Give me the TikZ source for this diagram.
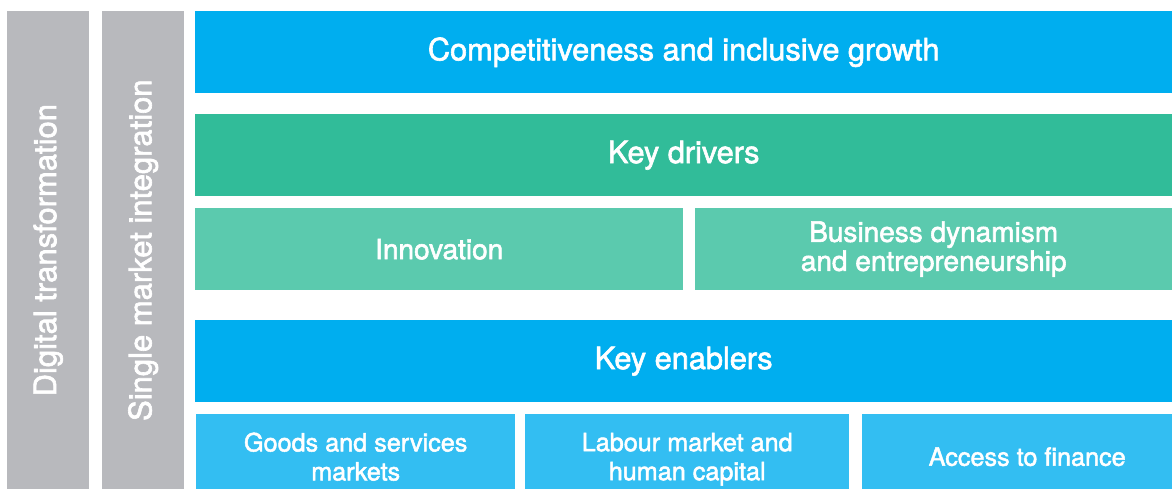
\documentclass[tikz,border=0pt]{standalone}
\usepackage{fontspec}
\setmainfont{TeX Gyre Heros}[BoldFeatures={FakeBold=2}, BoldFont=TeX Gyre Heros]
\usepackage{tikz}

\definecolor{pillargrey}{HTML}{B8B9BD}
\definecolor{mainblue}{HTML}{00AEEF}
\definecolor{lightblue}{HTML}{33BEF2}
\definecolor{maingreen}{HTML}{31BC99}
\definecolor{lightgreen}{HTML}{5BCAAE}

\tikzset{
  block/.style={anchor=north west, inner sep=0pt, text=white, align=center,
    font=\bfseries\fontsize{30.7}{34}\selectfont},
  subblock/.style={block, font=\bfseries\fontsize{28}{29}\selectfont},
  lowblock/.style={block, fill=lightblue, minimum height=75pt},
  lowtext/.style={text=white, align=center, inner sep=0pt, yshift=-5pt,
    font=\bfseries\fontsize{25.2}{29}\selectfont},
  pillar/.style={block, fill=pillargrey, minimum width=82pt, minimum height=478pt},
  pillartext/.style={rotate=90, text=white, font=\bfseries\fontsize{31}{34}\selectfont}
}

\begin{document}
\begin{tikzpicture}[x=1pt,y=-1pt]
\useasboundingbox (0,0) rectangle (1172,489);
% side pillars
\node[pillar] (digital) at (7,11) {};
\node[pillartext] (digitaltext) at (digital.center) {Digital transformation};
\node[pillar] (single) at (102,11) {};
\node[pillartext] (singletext) at (single.center) {Single market integration};
% top
\node[block, fill=mainblue, minimum width=977pt, minimum height=82pt] (growth) at (195,11) {Competitiveness and inclusive growth};
% drivers
\node[block, fill=maingreen, minimum width=977pt, minimum height=82pt] (drivers) at (195,114) {Key drivers};
\node[subblock, fill=lightgreen, minimum width=488pt, minimum height=82pt] (innov) at (195,208) {Innovation};
\node[subblock, fill=lightgreen, minimum width=477pt, minimum height=82pt] (business) at (695,208) {Business dynamism\\and entrepreneurship};
% enablers
\node[block, fill=mainblue, minimum width=977pt, minimum height=82pt] (enablers) at (195,320) {Key enablers};
\node[lowblock, minimum width=319pt] (goods) at (196,414) {};
\node[lowtext] (goodstext) at (goods.center) {Goods and services\\markets};
\node[lowblock, minimum width=324pt] (labour) at (525,414) {};
\node[lowtext, yshift=-2.5pt] (labourtext) at (labour.center) {Labour market and\\human capital};
\node[lowblock, minimum width=310pt] (finance) at (862,414) {};
\node[lowtext, xshift=10pt] (financetext) at (finance.center) {Access to finance};
\end{tikzpicture}
\end{document}
